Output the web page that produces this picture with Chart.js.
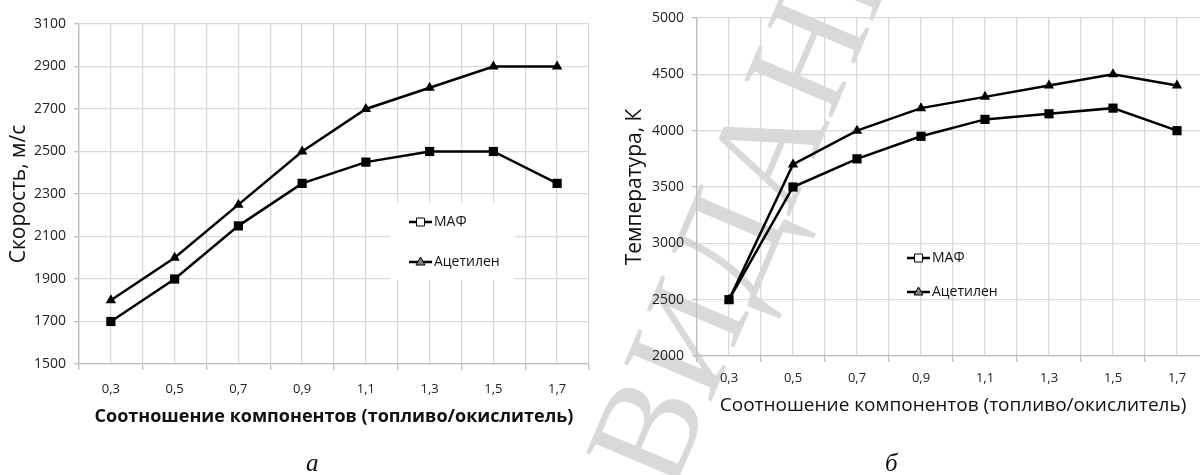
<!DOCTYPE html>
<html>
<head>
<meta charset="utf-8">
<script src="https://cdn.jsdelivr.net/npm/chart.js@4.4.0/dist/chart.umd.min.js"></script>
<style>
  html, body { margin: 0; padding: 0; background: #fff; overflow: hidden; }
  #wrap { position: relative; width: 1200px; height: 475px; overflow: hidden; }
  #mark { position: absolute; left: 0; top: 0; }
  canvas { position: absolute; top: 0; }
  #speedChart { left: 0; }
  #tempChart { left: 600px; }
  .sub { position: absolute; top: 450px; font-family: "Liberation Serif", serif; font-style: italic; font-size: 25px; line-height: 25px; color: #111; }
</style>
</head>
<body>
<div id="wrap">
  <svg id="mark" width="1200" height="475">
    <text x="672" y="494" transform="rotate(-67 672 494)" font-family="Liberation Serif, serif" font-size="145" fill="#d9d9d9">ВИДАННЯ</text>
  </svg>
  <canvas id="speedChart" width="600" height="475"></canvas>
  <canvas id="tempChart" width="620" height="475"></canvas>
  <div class="sub" style="left:306px">а</div>
  <div class="sub" style="left:885px">б</div>
</div>
<script>
const ratios = [0.3, 0.5, 0.7, 0.9, 1.1, 1.3, 1.5, 1.7];
const seriesNames = ['МАФ', 'Ацетилен'];
const speedMaf = [1700, 1900, 2150, 2350, 2450, 2500, 2500, 2350];
const speedAcet = [1800, 2000, 2250, 2500, 2700, 2800, 2900, 2900];
const tempMaf = [2500, 3500, 3750, 3950, 4100, 4150, 4200, 4000];
const tempAcet = [2500, 3700, 4000, 4200, 4300, 4400, 4500, 4400];
const speedRange = [1500, 3100, 200];
const tempRange = [2000, 5000, 500];
const xRange = [0.2, 1.8, 0.1];

const FONT = '"Open Sans", sans-serif';
const GRID = '#d9d9d9';
const AXIS = '#bfbfbf';

function points(vals) {
    return ratios.map((r, i) => ({ x: r, y: vals[i] }));
}

function ratioLabel(v) {
    const k = Math.round(v * 10);
    return k % 2 === 1 ? (k / 10).toFixed(1).replace('.', ',') : '';
}

// легенда рисуется вручную внутри области графика
const innerLegend = {
    id: 'innerLegend',
    afterDraw(chart, args, opts) {
        const ctx = chart.ctx;
        ctx.save();
        if (opts.box) {
            ctx.fillStyle = '#fff';
            ctx.fillRect(opts.box[0], opts.box[1], opts.box[2], opts.box[3]);
        }
        seriesNames.forEach((name, i) => {
            const x = opts.x, y = opts.y[i];
            ctx.strokeStyle = '#000';
            ctx.lineWidth = 2.5;
            ctx.beginPath();
            ctx.moveTo(x, y);
            ctx.lineTo(x + 23, y);
            ctx.stroke();
            ctx.lineWidth = 1;
            ctx.beginPath();
            if (i === 0) {
                ctx.fillStyle = '#fff';
                ctx.rect(x + 7.5, y - 4, 8, 8);
            } else {
                ctx.fillStyle = '#808080';
                ctx.moveTo(x + 11.5, y - 5);
                ctx.lineTo(x + 16, y + 3);
                ctx.lineTo(x + 7, y + 3);
                ctx.closePath();
            }
            ctx.fill();
            ctx.stroke();
            ctx.fillStyle = '#111';
            ctx.font = '14px ' + FONT;
            ctx.textBaseline = 'middle';
            ctx.fillText(name, x + 25, y);
        });
        ctx.restore();
    }
};

function makeChart(id, maf, acet, yRange, o) {
    return new Chart(document.getElementById(id), {
        type: 'line',
        data: {
            datasets: [
                {
                    label: seriesNames[0],
                    data: points(maf),
                    borderColor: '#000',
                    backgroundColor: '#000',
                    borderWidth: 2.5,
                    pointStyle: 'rect',
                    pointRadius: 6.5,
                    pointBorderWidth: 0
                },
                {
                    label: seriesNames[1],
                    data: points(acet),
                    borderColor: '#000',
                    backgroundColor: '#000',
                    borderWidth: 2.5,
                    pointStyle: 'triangle',
                    pointRadius: 6,
                    pointBorderWidth: 0
                }
            ]
        },
        options: {
            responsive: false,
            animation: false,
            events: [],
            layout: { padding: { top: o.top, right: o.right, left: 0, bottom: 0 } },
            plugins: {
                legend: { display: false },
                tooltip: { enabled: false },
                innerLegend: o.legend
            },
            scales: {
                x: {
                    type: 'linear',
                    min: xRange[0],
                    max: xRange[1],
                    afterFit: s => { s.height = o.xHeight; },
                    ticks: {
                        stepSize: xRange[2],
                        autoSkip: false,
                        maxRotation: 0,
                        padding: o.xTickPad,
                        color: '#222',
                        font: { family: FONT, size: 13 },
                        callback: ratioLabel
                    },
                    grid: {
                        color: GRID,
                        lineWidth: 1.3,
                        tickLength: 6,
                        tickColor: c => (Math.round(c.tick.value * 10) % 2 === 0 ? AXIS : 'rgba(0,0,0,0)')
                    },
                    border: { color: AXIS, width: 1.3 },
                    title: {
                        display: true,
                        text: 'Соотношение компонентов (топливо/окислитель)',
                        color: '#111',
                        font: { family: FONT, size: o.xTitleSize, weight: o.xTitleWeight },
                        padding: { top: 0, bottom: o.xTitleBottom }
                    }
                },
                y: {
                    min: yRange[0],
                    max: yRange[1],
                    afterFit: s => { s.width = o.yWidth; },
                    ticks: {
                        stepSize: yRange[2],
                        padding: 8,
                        color: '#222',
                        font: { family: FONT, size: 14 },
                        callback: v => String(v)
                    },
                    grid: { color: GRID, lineWidth: 1.3, tickLength: 5, tickColor: AXIS },
                    border: { color: AXIS, width: 1.3 },
                    title: {
                        display: true,
                        text: o.yTitle,
                        color: '#111',
                        font: { family: FONT, size: 21 },
                        padding: { top: o.yTitleTop, bottom: 0 }
                    }
                }
            }
        },
        plugins: [innerLegend]
    });
}

makeChart('speedChart', speedMaf, speedAcet, speedRange, {
    top: 24, right: 10, xHeight: 111, yWidth: 79, xTickPad: 11,
    xTitleSize: 18, xTitleWeight: 'bold', xTitleBottom: 47,
    yTitle: 'Скорость, м/с', yTitleTop: 6,
    legend: { x: 409, y: [222, 262], box: [390, 203, 125, 77] }
});

makeChart('tempChart', tempMaf, tempAcet, tempRange, {
    top: 18, right: 11, xHeight: 119, yWidth: 97, xTickPad: 8,
    xTitleSize: 19, xTitleWeight: 'normal', xTitleBottom: 58,
    yTitle: 'Температура, К', yTitleTop: 22,
    legend: { x: 307, y: [258, 292], box: null }
});
</script>
</body>
</html>
